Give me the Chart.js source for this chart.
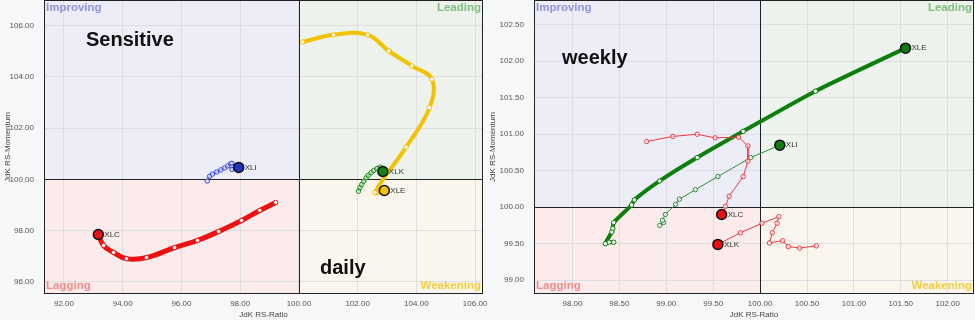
<!DOCTYPE html>
<html>
<head>
<meta charset="utf-8">
<script src="https://cdn.jsdelivr.net/npm/chart.js@4"></script>
<style>
  body { margin: 0; background: #f7f8fa; }
  .wrap { position: relative; width: 975px; height: 320px; }
  canvas { display: block; position: absolute; top: 0; }
  #daily { left: 0; }
  #weekly { left: 485px; }
</style>
</head>
<body>
<div class="wrap">
  <canvas id="daily" width="495" height="320"></canvas>
  <canvas id="weekly" width="490" height="320"></canvas>
</div>
<script>
// ---- daily (left panel) ----
const dailyRatioTicks = [92, 94, 96, 98, 100, 102, 104, 106];
const dailyMomentumTicks = [96, 98, 100, 102, 104, 106];

const dXlcRatio = [99.21, 98.67, 98.05, 97.27, 96.55, 95.77, 94.81, 94.13, 93.69, 93.35, 93.17];
const dXlcMomentum = [99.10, 98.79, 98.40, 97.97, 97.62, 97.34, 96.95, 96.91, 97.15, 97.42, 97.85];

const dXliRatio = [96.88, 96.96, 97.06, 97.20, 97.34, 97.47, 97.58, 97.68, 97.72, 97.72, 97.72, 97.95];
const dXliMomentum = [99.94, 100.12, 100.21, 100.29, 100.37, 100.45, 100.53, 100.61, 100.63, 100.49, 100.39, 100.47];

const dXlkRatio = [102.03, 102.08, 102.14, 102.21, 102.29, 102.36, 102.46, 102.55, 102.66, 102.77, 102.86];
const dXlkMomentum = [99.54, 99.68, 99.80, 99.93, 100.06, 100.16, 100.26, 100.35, 100.43, 100.48, 100.31];

const dXleRatio = [100.13, 101.18, 102.34, 103.06, 103.85, 104.53, 104.45, 103.65, 102.59, 102.91];
const dXleMomentum = [105.36, 105.64, 105.64, 105.01, 104.43, 103.91, 102.80, 101.26, 99.49, 99.57];

// ---- weekly (right panel) ----
const weeklyRatioTicks = [98, 98.5, 99, 99.5, 100, 100.5, 101, 101.5, 102];
const weeklyMomentumTicks = [99, 99.5, 100, 100.5, 101, 101.5, 102, 102.5];

const wXleRatio = [98.44, 98.39, 98.35, 98.42, 98.43, 98.44, 98.63, 98.66, 98.93, 99.33, 99.82, 100.59, 101.55];
const wXleMomentum = [99.52, 99.52, 99.50, 99.66, 99.71, 99.79, 100.03, 100.10, 100.36, 100.68, 101.04, 101.59, 102.18];

const wXliRatio = [98.93, 98.97, 98.96, 98.99, 99.10, 99.14, 99.31, 99.55, 99.90, 100.21];
const wXliMomentum = [99.75, 99.79, 99.82, 99.90, 100.04, 100.11, 100.24, 100.42, 100.68, 100.85];

const wXlcRatio = [98.79, 99.07, 99.33, 99.52, 99.77, 99.87, 99.87, 99.82, 99.67, 99.63, 99.59];
const wXlcMomentum = [100.90, 100.97, 101.00, 100.95, 100.96, 100.84, 100.63, 100.42, 100.15, 100.01, 99.90];

const wXlkRatio = [100.60, 100.42, 100.30, 100.24, 100.10, 100.13, 100.18, 100.20, 100.02, 99.79, 99.55];
const wXlkMomentum = [99.47, 99.44, 99.46, 99.54, 99.51, 99.65, 99.78, 99.87, 99.78, 99.65, 99.49];

const FONT = '"Liberation Sans", Arial, sans-serif';

function pts(xs, ys) {
  return xs.map((v, i) => ({ x: v, y: ys[i] }));
}

function series(label, xs, ys, color, width, tension, headColor, dotFill) {
  const n = xs.length;
  return {
    label: label,
    data: pts(xs, ys),
    showLine: true,
    borderColor: color,
    borderWidth: width,
    tension: tension,
    pointRadius: (c) => (c.dataIndex === n - 1 ? 5 : 2.2),
    pointBackgroundColor: (c) => (c.dataIndex === n - 1 ? headColor : dotFill),
    pointBorderColor: (c) => (c.dataIndex === n - 1 ? "#111" : color),
    pointBorderWidth: (c) => (c.dataIndex === n - 1 ? 1.5 : 1),
  };
}

const rrgPlugin = {
  id: "rrg",
  beforeDraw(chart, args, opts) {
    const { ctx, chartArea: a, scales } = chart;
    const cx = scales.x.getPixelForValue(100);
    const cy = scales.y.getPixelForValue(100);
    ctx.save();
    ctx.fillStyle = "#ededf7";
    ctx.fillRect(a.left, a.top, cx - a.left, cy - a.top);
    ctx.fillStyle = "#edf3ec";
    ctx.fillRect(cx, a.top, a.right - cx, cy - a.top);
    ctx.fillStyle = "#fbebeb";
    ctx.fillRect(a.left, cy, cx - a.left, a.bottom - cy);
    ctx.fillStyle = "#faf6ed";
    ctx.fillRect(cx, cy, a.right - cx, a.bottom - cy);
    ctx.restore();
  },
  beforeDatasetsDraw(chart, args, opts) {
    const { ctx, chartArea: a, scales } = chart;
    const cx = Math.round(scales.x.getPixelForValue(100)) + 0.5;
    const cy = Math.round(scales.y.getPixelForValue(100)) + 0.5;
    ctx.save();
    ctx.strokeStyle = "#222";
    ctx.lineWidth = 1;
    ctx.beginPath();
    ctx.moveTo(cx, a.top);
    ctx.lineTo(cx, a.bottom);
    ctx.moveTo(a.left, cy);
    ctx.lineTo(a.right, cy);
    ctx.stroke();

    // quadrant names
    ctx.font = "bold 11.5px " + FONT;
    ctx.textBaseline = "middle";
    ctx.textAlign = "left";
    ctx.fillStyle = "#8e93e4";
    ctx.fillText("Improving", a.left + 2, a.top + 8);
    ctx.fillStyle = "#f08c8c";
    ctx.fillText("Lagging", a.left + 2, a.bottom - 8);
    ctx.textAlign = "right";
    ctx.fillStyle = "#7cbf7c";
    ctx.fillText("Leading", a.right - 2, a.top + 8);
    ctx.fillStyle = "#f4cd3a";
    ctx.fillText("Weakening", a.right - 2, a.bottom - 8);

    // notes
    ctx.font = "bold 20px " + FONT;
    ctx.fillStyle = "#111";
    ctx.textAlign = "left";
    (opts.notes || []).forEach((n) => ctx.fillText(n.text, n.x, n.y));
    ctx.restore();
  },
  afterDatasetsDraw(chart) {
    const { ctx, chartArea: a } = chart;
    ctx.save();
    ctx.font = "8px " + FONT;
    ctx.fillStyle = "#333";
    ctx.textBaseline = "middle";
    ctx.textAlign = "left";
    chart.data.datasets.forEach((ds, i) => {
      const pts = chart.getDatasetMeta(i).data;
      const head = pts[pts.length - 1];
      ctx.fillText(ds.label, head.x + 6, head.y);
    });
    ctx.strokeStyle = "#222";
    ctx.lineWidth = 1;
    ctx.strokeRect(a.left + 0.5, a.top + 0.5, a.right - a.left - 1, a.bottom - a.top - 1);
    ctx.restore();
  },
};

function noPad(axis) {
  axis.paddingTop = 0;
  axis.paddingBottom = 0;
  axis.paddingLeft = 0;
  axis.paddingRight = 0;
}

function makeChart(id, datasets, xr, yr, xTicks, yTicks, yWidth, padRight, notes) {
  const tickFont = { family: FONT, size: 8 };
  return new Chart(document.getElementById(id), {
    type: "scatter",
    data: { datasets: datasets },
    plugins: [rrgPlugin],
    options: {
      responsive: false,
      animation: false,
      layout: { autoPadding: false, padding: { top: 0, right: padRight, left: 0, bottom: 0 } },
      plugins: {
        legend: { display: false },
        tooltip: { enabled: false },
        rrg: { notes: notes },
      },
      scales: {
        x: {
          type: "linear",
          min: xr[0],
          max: xr[1],
          afterBuildTicks: (axis) => { axis.ticks = xTicks.map((v) => ({ value: v })); },
          afterFit: (axis) => { axis.height = 26; noPad(axis); },
          grid: { color: "#dedee2", drawTicks: false },
          border: { display: false },
          ticks: { font: tickFont, color: "#555", padding: 5, maxRotation: 0, callback: (v) => v.toFixed(2) },
          title: { display: true, text: "JdK RS-Ratio", font: tickFont, color: "#444", padding: { top: 0, bottom: 0 } },
        },
        y: {
          type: "linear",
          min: yr[0],
          max: yr[1],
          afterBuildTicks: (axis) => { axis.ticks = yTicks.map((v) => ({ value: v })); },
          afterFit: (axis) => { axis.width = yWidth; noPad(axis); },
          grid: { color: "#dedee2", drawTicks: false },
          border: { display: false },
          ticks: { font: tickFont, color: "#555", padding: 10, callback: (v) => v.toFixed(2) },
          title: { display: true, text: "JdK RS-Momentum", font: tickFont, color: "#444", padding: { top: 3, bottom: 0 } },
        },
      },
    },
  });
}

makeChart(
  "daily",
  [
    series("XLC", dXlcRatio, dXlcMomentum, "#ee1111", 5, 0.4, "#e81010", "#ffffff"),
    series("XLI", dXliRatio, dXliMomentum, "#3344d4", 1.5, 0.3, "#2233c0", "rgba(255,255,255,0.6)"),
    series("XLK", dXlkRatio, dXlkMomentum, "#138a13", 2, 0.3, "#128012", "rgba(255,255,255,0.6)"),
    series("XLE", dXleRatio, dXleMomentum, "#f2c200", 4, 0.4, "#f2c200", "#ffffff"),
  ],
  [91.32, 106.27],
  [95.53, 107.0],
  dailyRatioTicks,
  dailyMomentumTicks,
  44,
  12,
  [
    { text: "Sensitive", x: 86, y: 40 },
    { text: "daily", x: 320, y: 268 },
  ]
);

makeChart(
  "weekly",
  [
    series("XLC", wXlcRatio, wXlcMomentum, "#ee3a44", 1, 0, "#e81010", "rgba(255,255,255,0.6)"),
    series("XLK", wXlkRatio, wXlkMomentum, "#ee3a44", 1, 0, "#e81010", "rgba(255,255,255,0.6)"),
    series("XLI", wXliRatio, wXliMomentum, "#2f8f3a", 1, 0, "#117a11", "rgba(255,255,255,0.6)"),
    series("XLE", wXleRatio, wXleMomentum, "#0c7f0c", 4, 0.25, "#0c7a0c", "#ffffff"),
  ],
  [97.59, 102.28],
  [98.81, 102.84],
  weeklyRatioTicks,
  weeklyMomentumTicks,
  49,
  1,
  [{ text: "weekly", x: 77, y: 58 }]
);
</script>
</body>
</html>
